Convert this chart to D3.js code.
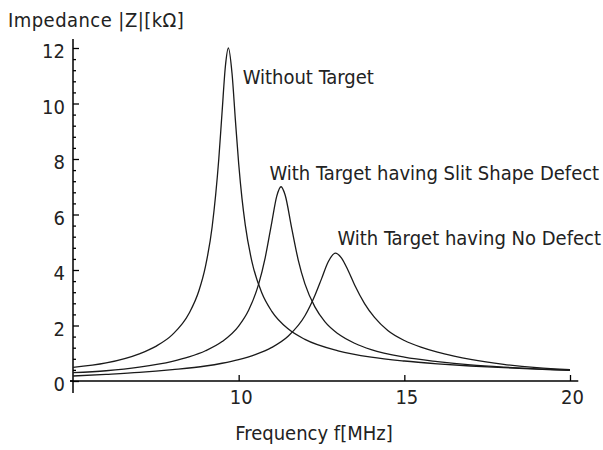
<!DOCTYPE html>
<html>
<head>
<meta charset="utf-8">
<script src="https://cdn.jsdelivr.net/npm/d3@7"></script>
<style>
  html, body { margin: 0; padding: 0; background: #fff; }
  svg { display: block; }
  text { font-family: "DejaVu Sans Condensed", "DejaVu Sans", sans-serif; fill: #222; }
</style>
</head>
<body>
<svg id="chart" width="603" height="450"></svg>
<script>
// Impedance magnitude |Z| [kΩ] of the sensing coil versus frequency f [MHz]

// Without target
const withoutTargetF = [5, 6, 7, 7.5, 8, 8.5, 8.8, 9.0, 9.2, 9.4, 9.5, 9.6, 9.69, 9.8, 9.9, 10.0, 10.1, 10.2, 10.4, 10.7, 11, 11.5, 12, 13, 14, 15, 16, 17, 18, 19, 20];
const withoutTargetZ = [0.49, 0.65, 0.98, 1.25, 1.67, 2.43, 3.25, 4.14, 5.56, 8.00, 9.70, 11.35, 12.0, 11.08, 9.42, 7.84, 6.58, 5.62, 4.30, 3.17, 2.51, 1.87, 1.50, 1.09, 0.86, 0.72, 0.62, 0.54, 0.48, 0.43, 0.38];

// With target having a slit shape defect
const slitDefectF = [5, 6, 7, 8, 8.5, 9, 9.5, 10, 10.3, 10.6, 10.8, 11.0, 11.15, 11.28, 11.4, 11.6, 11.8, 12.0, 12.3, 12.6, 13, 13.5, 14, 15, 16, 17, 18, 19, 20];
const slitDefectZ = [0.30, 0.37, 0.50, 0.71, 0.87, 1.09, 1.42, 1.98, 2.55, 3.48, 4.44, 5.72, 6.66, 7.0, 6.71, 5.51, 4.35, 3.50, 2.67, 2.14, 1.70, 1.36, 1.13, 0.86, 0.70, 0.58, 0.50, 0.44, 0.39];

// With target having no defect
const noDefectF = [5, 6, 7, 8, 9, 9.5, 10, 10.5, 11, 11.5, 12, 12.3, 12.5, 12.7, 12.92, 13.1, 13.3, 13.5, 13.8, 14.1, 14.5, 15, 15.5, 16, 16.5, 17, 18, 19, 20];
const noDefectZ = [0.18, 0.24, 0.31, 0.41, 0.54, 0.64, 0.77, 0.95, 1.21, 1.62, 2.35, 3.08, 3.68, 4.29, 4.61, 4.44, 3.99, 3.46, 2.79, 2.29, 1.82, 1.46, 1.22, 1.04, 0.90, 0.78, 0.60, 0.48, 0.41];

// Curve annotations: text and the point (f, |Z|) where each label starts
const labelTexts = ["Without Target", "With Target having Slit Shape Defect", "With Target having No Defect"];
const labelF = [10.12, 10.93, 12.98];
const labelZ = [10.7, 7.24, 4.9];

// Axis ticks
const xTicks = [10, 15, 20];
const yTicks = [0, 2, 4, 6, 8, 10, 12];
const yMinorTicks = [0.4, 0.8, 1.2, 1.6, 2.4, 2.8, 3.2, 3.6, 4.4, 4.8, 5.2, 5.6, 6.4, 6.8, 7.2, 7.6, 8.4, 8.8, 9.2, 9.6, 10.4, 10.8, 11.2, 11.6];

const xTitle = "Frequency f[MHz]";
const yTitle = "Impedance |Z|[kΩ]";

const svg = d3.select("#chart");
const fontSize = 20;

const x = d3.scaleLinear().domain([5, 20]).range([73, 570]);
const y = d3.scaleLinear().domain([0, 12]).range([381, 48]);

// Axis lines (y axis runs a little past both ends, x axis a little past 20)
svg.append("line")
  .attr("x1", x(5)).attr("x2", x(5))
  .attr("y1", y(12.32)).attr("y2", y(-0.43))
  .attr("stroke", "#000").attr("stroke-width", 1.5);
svg.append("line")
  .attr("x1", x(5) - 3).attr("x2", x(20.25))
  .attr("y1", y(0)).attr("y2", y(0))
  .attr("stroke", "#000").attr("stroke-width", 1.5);

// Y axis: ticks point inward, labels on the left
const yAxis = svg.append("g")
  .attr("transform", `translate(${x(5)},0)`)
  .call(d3.axisLeft(y).tickValues(yTicks).tickSize(-6).tickSizeOuter(0).tickPadding(9).tickFormat(d3.format("d")));
const yMinor = svg.append("g")
  .attr("transform", `translate(${x(5)},0)`)
  .call(d3.axisLeft(y).tickValues(yMinorTicks).tickSize(-3).tickSizeOuter(0).tickFormat(""));

// X axis: ticks point up into the plot
const xAxis = svg.append("g")
  .attr("transform", `translate(0,${y(0)})`)
  .call(d3.axisBottom(x).tickValues(xTicks).tickSize(-6).tickSizeOuter(0).tickPadding(9).tickFormat(d3.format("d")));

[yAxis, yMinor, xAxis].forEach(g => {
  g.select(".domain").remove();
  g.selectAll(".tick line").attr("stroke", "#000").attr("stroke-width", 1.3);
  g.selectAll(".tick text")
    .attr("font-family", null)
    .attr("font-size", fontSize)
    .attr("fill", "#222");
});
yAxis.selectAll(".tick text").attr("dy", "0.48em").attr("x", -8);
xAxis.selectAll(".tick text").attr("dx", "0.1em");
// small outward tick at the origin on the y axis
svg.append("line")
  .attr("x1", x(5) - 3).attr("x2", x(5))
  .attr("y1", y(0)).attr("y2", y(0))
  .attr("stroke", "#000").attr("stroke-width", 1.3);

// Curves
const line = d3.line()
  .x(d => x(d[0]))
  .y(d => y(d[1]))
  .curve(d3.curveMonotoneX);

const series = [
  d3.zip(withoutTargetF, withoutTargetZ),
  d3.zip(slitDefectF, slitDefectZ),
  d3.zip(noDefectF, noDefectZ)
];

svg.append("g")
  .selectAll("path")
  .data(series)
  .join("path")
  .attr("d", line)
  .attr("fill", "none")
  .attr("stroke", "#1a1a1a")
  .attr("stroke-width", 1.3)
  .attr("stroke-linejoin", "round");

// Curve labels
svg.append("g")
  .selectAll("text")
  .data(labelTexts)
  .join("text")
  .attr("x", (d, i) => x(labelF[i]))
  .attr("y", (d, i) => y(labelZ[i]))
  .attr("font-size", fontSize)
  .text(d => d);

// Axis titles
svg.append("text")
  .attr("x", 8)
  .attr("y", 27)
  .attr("font-size", fontSize)
  .attr("letter-spacing", 0.45)
  .text(yTitle);

svg.append("text")
  .attr("x", 314)
  .attr("y", 440)
  .attr("text-anchor", "middle")
  .attr("font-size", fontSize)
  .text(xTitle);
</script>
</body>
</html>
